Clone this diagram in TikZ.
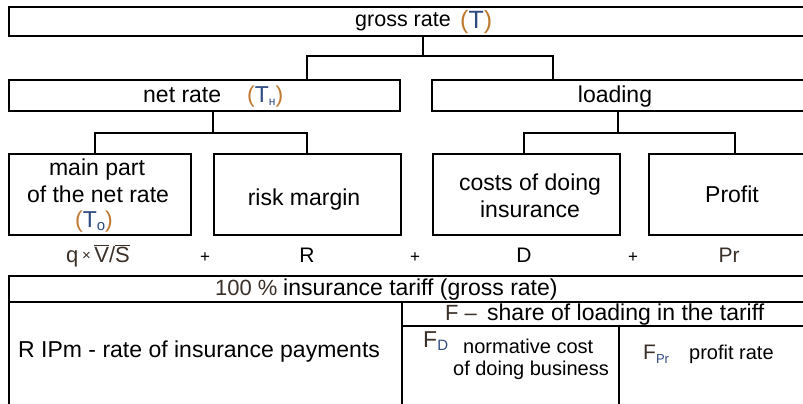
\documentclass[tikz,border=0pt]{standalone}
\usepackage{fontspec}
\setmainfont{Liberation Sans}
\definecolor{cpar}{HTML}{C07A32}
\definecolor{cnavy}{HTML}{2E4A80}
\definecolor{cdark}{HTML}{3A3028}
\newcommand{\fs}[1]{\fontsize{#1}{#1}\selectfont}
\newcommand{\pr}[1]{\textcolor{cpar}{#1}}
\newcommand{\nv}[1]{\textcolor{cnavy}{#1}}
\newcommand{\ovl}[1]{$\overline{\mbox{#1}}$}
\begin{document}
\begin{tikzpicture}[x=1pt,y=-1pt,
  box/.style={draw=black,line width=1.8pt,rectangle,inner sep=0pt,anchor=north west},
  link/.style={draw=black,line width=1.8pt},
  txt/.style={inner sep=0pt,anchor=base,font=\fs{23}},
  txtw/.style={inner sep=0pt,anchor=base west,font=\fs{23}},
  small/.style={inner sep=0pt,anchor=base west,font=\fs{20}},
  plus/.style={inner sep=0pt,anchor=base,font=\fs{17}}]
\useasboundingbox (0,0) rectangle (803,404);
\fill[white] (0,0) rectangle (803,404);
\clip (0,0) rectangle (803,404);
% top tree
\node[box,minimum width=810pt,minimum height=29pt] (gross) at (8,6) {};
\node[box,minimum width=391pt,minimum height=31pt] (net) at (8,79) {};
\node[box,minimum width=384pt,minimum height=31pt] (load) at (431,79) {};
\node[box,minimum width=182pt,minimum height=81pt] (main) at (8,153) {};
\node[box,minimum width=187pt,minimum height=81pt] (risk) at (213,153) {};
\node[box,minimum width=187pt,minimum height=81pt] (costs) at (432,153) {};
\node[box,minimum width=170pt,minimum height=81pt] (profit) at (648,153) {};
% connectors
\coordinate (jg) at (423,56);
\coordinate (nl) at (307,0);
\coordinate (lr) at (553,0);
\draw[link] (jg |- gross.south) -- (jg);
\draw[link] (nl |- net.north) |- (lr |- jg) -- (lr |- load.north);
\coordinate (jn) at (213,133);
\coordinate (ml) at (95,0);
\coordinate (rr) at (307,0);
\draw[link] (jn |- net.south) -- (jn);
\draw[link] (ml |- main.north) |- (rr |- jn) -- (rr |- risk.north);
\coordinate (jl) at (618,133);
\coordinate (cl) at (524,0);
\coordinate (pl) at (735,0);
\draw[link] (jl |- load.south) -- (jl);
\draw[link] (cl |- costs.north) |- (pl |- jl) -- (pl |- profit.north);
% top texts
\node[small,font=\fs{21.5}] (tg) at (355,27) {gross rate};
\node[small,font=\fs{25}] (tgT) at (460,29) {\pr{(}\nv{T}\pr{)}};
\node[txtw] (tn) at (143,102) {net rate};
\node[txtw] (tnT) at (247,102) {\pr{(}\nv{T\raisebox{-0.25ex}{\fs{12}н}}\pr{)}};
\node[txt] (tl) at (615,102) {loading};
\node[txt] (tm1) at (97,175) {main part};
\node[txt] (tm2) at (98,202) {of the net rate};
\node[txt] (tm3) at (94,227) {\pr{(}\nv{T\raisebox{-0.3ex}{\fs{15}o}}\pr{)}};
\node[txt] (tr) at (304,205) {risk margin};
\node[txt] (tc1) at (530,190) {costs of doing};
\node[txt] (tc2) at (530,217) {insurance};
\node[txt] (tp) at (732,202) {Profit};
% formula row
\node[txt,font=\fs{22}] (fq) at (98,262) {\textcolor{cdark}{q\,\raisebox{0.15ex}{\fs{15}×}\,\ovl{V}/\ovl{S}}};
\node[plus] (p1) at (205,262) {+};
\node[txt,font=\fs{21}] (fR) at (307,262) {R};
\node[plus] (p2) at (415,262) {+};
\node[txt,font=\fs{21}] (fD) at (524,262) {D};
\node[plus] (p3) at (633,262) {+};
\node[txt,font=\fs{21}] (fP) at (729,262) {\textcolor{cdark}{Pr}};
% bottom table
\node[box,minimum width=810pt,minimum height=26pt] (tariff) at (8,275) {};
\node[box,minimum width=393pt,minimum height=110pt] (ripm) at (8,301) {};
\node[box,minimum width=417pt,minimum height=24pt] (share) at (401,301) {};
\node[box,minimum width=217pt,minimum height=86pt] (fd) at (401,325) {};
\node[box,minimum width=200pt,minimum height=86pt] (fpr) at (618,325) {};
\node[txtw,font=\fs{22}] (t100) at (215,295) {\textcolor{cdark}{100 \%}};
\node[txtw] (tins) at (283,295) {insurance tariff (gross rate)};
\node[txtw,font=\fs{22}] (tF) at (445,320) {\textcolor{cdark}{F –}};
\node[txtw] (tsh) at (487,320) {share of loading in the tariff};
\node[txtw] (tri) at (18,357) {R IPm - rate of insurance payments};
\node[txtw,font=\fs{23}] (tFD) at (423,347) {\textcolor{cdark}{F}\raisebox{-0.3ex}{\nv{\fs{15}D}}};
\node[small] (tnc) at (463,353) {normative cost};
\node[small,anchor=base east] (tdb) at (609,375) {of doing business};
\node[txtw,font=\fs{21}] (tFP) at (643,359) {\textcolor{cdark}{F}\raisebox{-0.4ex}{\nv{\fs{13}Pr}}};
\node[small] (tpr) at (689,359) {profit rate};
\end{tikzpicture}
\end{document}
